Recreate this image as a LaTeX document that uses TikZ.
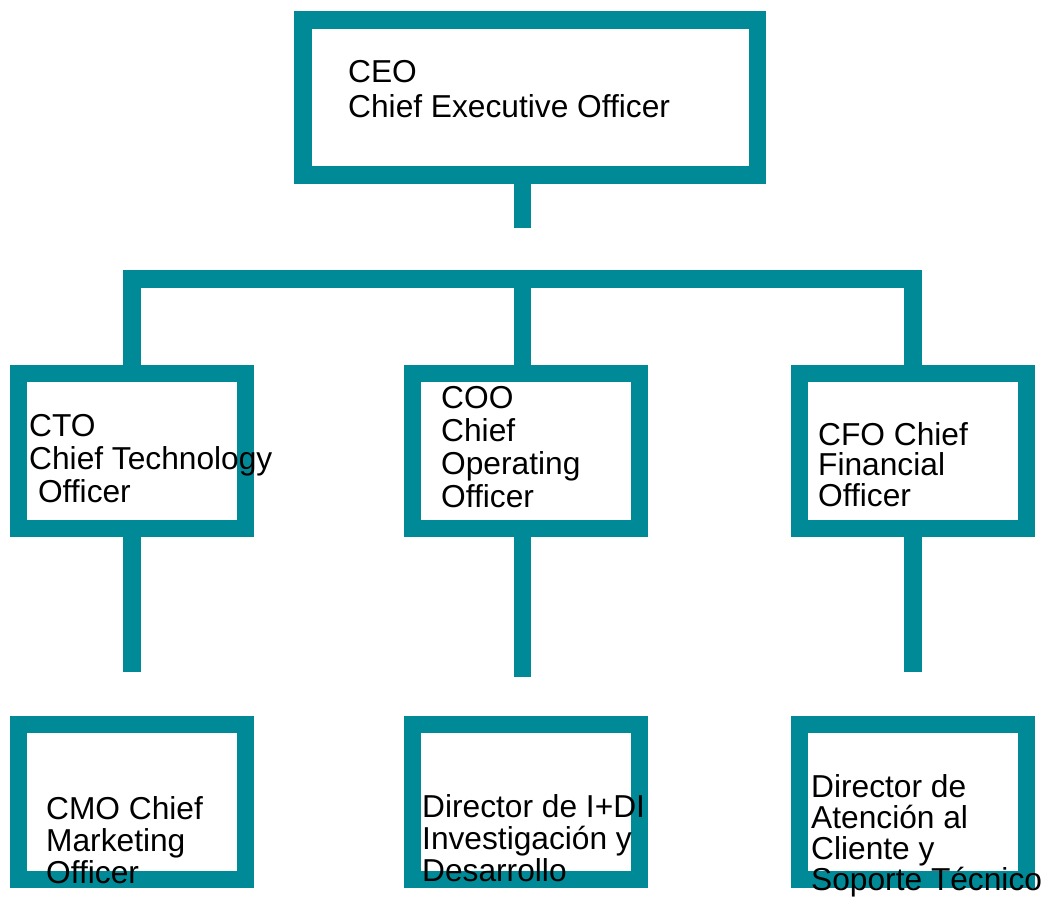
\documentclass[tikz,border=0pt]{standalone}
\usepackage{fontspec}
\setmainfont{Liberation Sans}
\usetikzlibrary{positioning}
\definecolor{orgteal}{RGB}{0,137,150}
\tikzset{orgbox/.style = {draw=orgteal, line width=17.5pt, minimum width=227pt,
                          minimum height=155pt, inner sep=0}}
\tikzset{orgline/.style = {draw=orgteal, line width=17.5pt, line join=miter}}
\tikzset{orgtext/.style = {anchor=base west, align=left, inner sep=0,
                           font=\fontsize{31.7}{32}\selectfont}}

\begin{document}
\begin{tikzpicture}[x=1pt, y=-1pt]
    \useasboundingbox (0, 0) rectangle (1044, 897);

    % boxes
    \node [orgbox, minimum width=454.5pt] (ceo) at (530.25, 97.25) {};
    \node [orgbox] (cto) at (132, 451) {};
    \node [orgbox] (coo) at (525.75, 451) {};
    \node [orgbox] (cfo) at (913, 451) {};
    \node [orgbox] (cmo) at (132, 802) {};
    \node [orgbox] (did) at (525.75, 802) {};
    \node [orgbox] (dat) at (912.75, 802) {};

    % connectors
    \coordinate (bar) at (522.5, 279);
    \coordinate (ceoend) at (522.5, 228);
    \coordinate (ctoend) at (132, 672);
    \coordinate (cooend) at (522.5, 677);
    \coordinate (cfoend) at (913, 672);
    \draw [orgline] (ceo.south -| ceoend) -- (ceoend);
    \draw [orgline] (cto.north) |- (bar) -| (cfo.north);
    \draw [orgline] (bar) -- (coo.north -| bar);
    \draw [orgline] (cto.south) -- (ctoend);
    \draw [orgline] (coo.south -| cooend) -- (cooend);
    \draw [orgline] (cfo.south) -- (cfoend);

    % labels (placed at the baseline of their last line)
    \node [orgtext, font=\fontsize{31.7}{35}\selectfont] (ceotext) at (348, 117) {CEO\\Chief Executive Officer};
    \node [orgtext, font=\fontsize{31.7}{33}\selectfont] (ctotext) at (29, 502) {CTO\\Chief Technology\\\ Officer};
    \node [orgtext, font=\fontsize{31.7}{33}\selectfont] (cootext) at (441, 507) {COO\\Chief\\Operating\\Officer};
    \node [orgtext, font=\fontsize{31.7}{30.5}\selectfont] (cfotext) at (818, 506) {CFO Chief\\Financial\\Officer};
    \node [orgtext] (cmotext) at (46, 883) {CMO Chief\\Marketing\\Officer};
    \node [orgtext] (didtext) at (422, 881) {Director de I+DI\\Investigación y\\Desarrollo};
    \node [orgtext, font=\fontsize{31.7}{30.7}\selectfont] (dattext) at (811, 890) {Director de\\Atención al\\Cliente y\\Soporte Técnico};
\end{tikzpicture}
\end{document}
